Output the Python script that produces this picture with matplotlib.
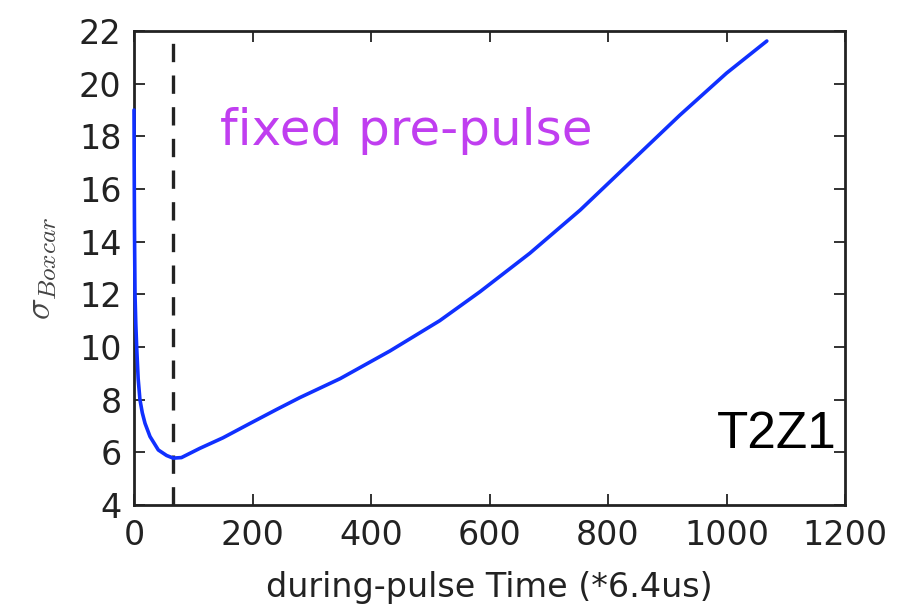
import matplotlib
matplotlib.use("Agg")
import matplotlib.pyplot as plt

# curve (time index vs sigma)
time_idx = [0, 0.3, 0.8, 1.7, 3, 4.5, 7, 10, 14, 18.6, 27, 41, 55, 66, 80,
            111, 150, 196, 240, 280, 348, 432, 516, 584, 668, 753,
            837, 921, 1000, 1068]
sigma = [19.0, 17.0, 14.5, 12.0, 10.9, 10.0, 8.8, 8.0, 7.5, 7.1, 6.6, 6.09, 5.88, 5.78, 5.8,
         6.15, 6.55, 7.1, 7.62, 8.08, 8.8, 9.85, 11.0, 12.1, 13.56, 15.2,
         17.0, 18.8, 20.4, 21.62]

pre_pulse_end = 66
x_ticks = [0, 200, 400, 600, 800, 1000, 1200]
y_ticks = [4, 6, 8, 10, 12, 14, 16, 18, 20, 22]

plt.rcParams['mathtext.fontset'] = 'cm'

fig = plt.figure(figsize=(9.03, 6.13), dpi=100)
ax = fig.add_axes([0.1484, 0.1762, 0.7874, 0.7732])

ax.plot(time_idx, sigma, color='#1030ff', lw=2.6, zorder=3, clip_on=False,
        solid_capstyle='round')
ax.axvline(pre_pulse_end, color='#222222', lw=2.4, linestyle=(0, (5.5, 4)))

ax.set_xlim(0, 1200)
ax.set_ylim(4, 22)
ax.set_xticks(x_ticks)
ax.set_yticks(y_ticks)
ax.tick_params(direction='in', top=True, right=True, length=8, width=1.3,
               labelsize=24, pad=10, colors='#222222')
ax.tick_params(axis='y', pad=9)
for s in ax.spines.values():
    s.set_linewidth(2)
    s.set_color('#222222')

ax.set_xlabel('during-pulse Time (*6.4us)', fontsize=24, color='#222222', labelpad=14)
ax.set_ylabel(r'$\sigma_{Boxcar}$', fontsize=26, color='#444444', labelpad=14)

ax.text(145, 17.67, 'fixed pre-pulse', color='#c03ef0', fontsize=36,
        ha='left', va='baseline')
ax.text(1185, 6.16, 'T2Z1', color='black', fontsize=37,
        family='Liberation Sans', ha='right', va='baseline')

fig.savefig('out.png', dpi=100)
